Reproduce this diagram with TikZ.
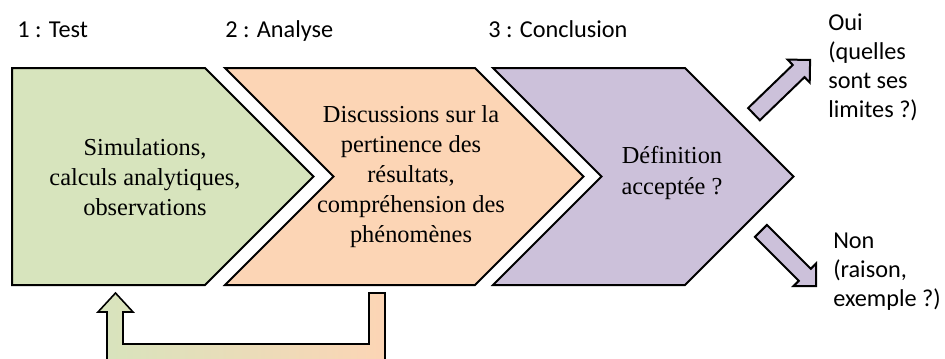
\documentclass[tikz,border=0pt]{standalone}
\usepackage{fontspec}
\setmainfont{Liberation Serif}
\newfontfamily\labelfont{Carlito}
\usepackage{tikz}
\usetikzlibrary{shapes,arrows,positioning}
\definecolor{testgreen}{RGB}{215,228,189}
\definecolor{analyseorange}{RGB}{252,213,181}
\definecolor{conclusionpurple}{RGB}{204,193,218}

\begin{document}
\begin{tikzpicture}[x=0.75pt,y=-0.75pt,
  chevron/.style={draw=black,line width=1.5pt,line join=miter},
  steptext/.style={align=center,inner sep=0pt,font=\fontsize{18.3}{22.5}\selectfont},
  sidetext/.style={align=left,inner sep=0pt,font=\labelfont\fontsize{18.2}{21.75}\selectfont},
  blockarrow/.style={single arrow,draw=black,line width=1.5pt,fill=conclusionpurple,
    inner xsep=0pt,inner ysep=5.6pt,single arrow head extend=5.6pt,
    single arrow head indent=0pt,minimum height=58.5pt}]
\useasboundingbox (0,0) rectangle (945,358);
\clip (0,0) rectangle (945,358);
% Step titles
\node[sidetext,anchor=base west] (testlabel) at (17,37) {1 : Test};
\node[sidetext,anchor=base west] (analyselabel) at (225,37) {2 : Analyse};
\node[sidetext,anchor=base west] (conclusionlabel) at (488,37) {3 : Conclusion};
% Test
\path[chevron,fill=testgreen] (12,68) -- (205,68) -- (313.5,176.5) -- (205,285) -- (12,285) -- cycle;
\node[steptext] (test) at (145,177) {Simulations,\\calculs analytiques,\\observations};
% Analyse
\path[chevron,fill=analyseorange] (225,68) -- (475,68) -- (583.5,176.5) -- (475,285) -- (225,285) -- (333.5,176.5) -- cycle;
\node[steptext] (analyse) at (411,177) {Discussions sur la\\pertinence des\\résultats,\\compréhension des\\phénomènes};
% Conclusion
\path[chevron,fill=conclusionpurple] (493,68) -- (685,68) -- (793.5,176.5) -- (685,285) -- (493,285) -- (601.5,176.5) -- cycle;
\node[steptext] (conclusion) at (672,173) {Définition\\acceptée ?};
% Oui / Non
\node[blockarrow,rotate=44] (ouiarrow) at (779,90) {};
\node[blockarrow,rotate=-45] (nonarrow) at (785.5,255.5) {};
\node[sidetext,anchor=north west] (oui) at (828,14) {Oui\\(quelles\\sont ses\\limites ?)};
\node[sidetext,anchor=north west] (non) at (833,233) {Non\\(raison,\\exemple ?)};
% Back to the test
\shade[draw=black,line width=1.2pt,line join=miter,left color=testgreen,right color=analyseorange]
  (369,293) -- (385,293) -- (385,360) -- (107,360) -- (107,312) -- (98,312) -- (115.5,293)
  -- (133,312) -- (123,312) -- (123,344) -- (369,344) -- cycle;
\end{tikzpicture}
\end{document}
